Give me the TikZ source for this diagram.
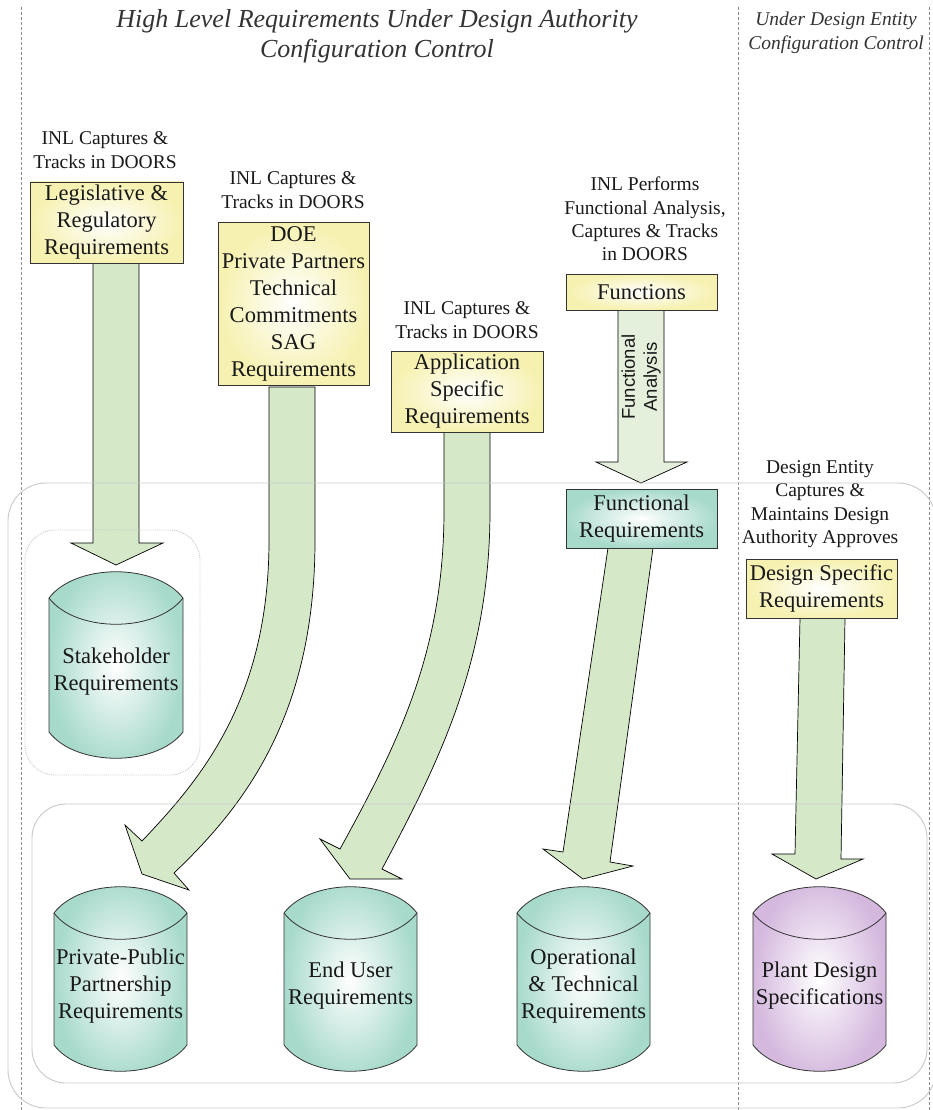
\documentclass[tikz,border=0pt]{standalone}
\usepackage{fontspec}
\setmainfont{Liberation Serif}
\setsansfont{Liberation Sans}
\definecolor{yel}{RGB}{246,241,176}
\definecolor{tealc}{RGB}{168,218,204}
\definecolor{purp}{RGB}{212,184,222}
\definecolor{arr}{RGB}{213,232,200}
\definecolor{arrlight}{RGB}{228,240,220}
\definecolor{framec}{RGB}{200,200,200}
\definecolor{txt}{RGB}{25,25,25}
\newcommand\cylinderfig[7]{%
  \pgfmathsetmacro\cylw{#2-#1}
  \path[draw=black!80, line width=0.8, inner color=white, outer color=#5]
    (#1,#3) .. controls ({#1+0.2*\cylw},{#3-35}) and ({#2-0.2*\cylw},{#3-35}) .. (#2,#3)
    -- (#2,#4) .. controls ({#2-0.2*\cylw},{#4+35}) and ({#1+0.2*\cylw},{#4+35}) .. (#1,#4) -- cycle;
  \draw[black!80, line width=0.8] (#1,#3) .. controls ({#1+0.2*\cylw},{#3+35}) and ({#2-0.2*\cylw},{#3+35}) .. (#2,#3);
  \node[cyltext] (#6) at ({(#1+#2)/2},{(#3+#4)/2+7}) {#7};
}
\begin{document}
\begin{tikzpicture}[x=1pt,y=-1pt,
  ybox/.style={draw=black!80, line width=0.8, inner color=white, outer color=yel,
    font=\fontsize{22.5}{27}\selectfont, align=center, inner sep=0, text=txt},
  tbox/.style={draw=black!80, line width=0.8, inner color=white, outer color=tealc,
    font=\fontsize{22.5}{27}\selectfont, align=center, inner sep=0, text=txt},
  cyltext/.style={font=\fontsize{22.5}{27}\selectfont, align=center, inner sep=0, text=txt},
  lbl/.style={font=\fontsize{19.5}{23.3}\selectfont, align=center, inner sep=0, text=txt},
  blockarrow/.style={fill=arr, draw=black, line width=0.7, line join=miter},
  divider/.style={draw=black!45, densely dashed, line width=0.6},
  region/.style={draw=framec, line width=0.9, rounded corners=38}
]
\useasboundingbox (0,0) rectangle (933,1110);

% dashed dividers
\draw[divider] (21,7) -- (21,1110);
\draw[divider] (738,7) -- (738,1110);
\draw[divider] (929,7) -- (929,1110);

% titles
\node[font=\itshape\fontsize{26}{30}\selectfont, align=center, inner sep=0, text=black!80] (title) at (377,36)
  {High Level Requirements Under Design Authority\\Configuration Control};
\node[font=\itshape\fontsize{19.5}{24}\selectfont, align=center, inner sep=0, text=black!80] (title2) at (836,33)
  {Under Design Entity\\Configuration Control};

% labels
\node[lbl] (l1) at (105,150) {INL Captures \&\\Tracks in DOORS};
\node[lbl] (l2) at (293,190) {INL Captures \&\\Tracks in DOORS};
\node[lbl] (l3) at (467,320) {INL Captures \&\\Tracks in DOORS};
\node[lbl] (l4) at (645,219) {INL Performs\\Functional Analysis,\\Captures \& Tracks\\in DOORS};
\node[lbl] (l5) at (820,504) {Design Entity\\Captures \&\\Maintains Design\\Authority Approves};

% block arrows
\path[blockarrow] (93,263) -- (93,543) -- (71,543) -- (116,565) -- (163,543) -- (139,543) -- (139,263) -- cycle;
\path[blockarrow] (269,387) -- (269,540) .. controls (269,700) and (200,780) .. (142,841)
  -- (125,825) -- (142,874) -- (189,890) -- (174,873)
  .. controls (240,810) and (315,720) .. (315,540) -- (315,387) -- cycle;
\path[blockarrow] (444,432) -- (444,510) .. controls (444,650) and (400,740) .. (340,849)
  -- (320,839) -- (350,879) -- (402,879) -- (382,869)
  .. controls (440,760) and (490,660) .. (490,510) -- (490,432) -- cycle;
\path[blockarrow, fill=arrlight] (618,310) -- (618,462) -- (596,462) -- (641,483) -- (687,462) -- (664,462) -- (664,310) -- cycle;
\path[blockarrow] (608,548) -- (563,852) -- (543,849) -- (583,879) -- (633,866) -- (610,862) -- (653,548) -- cycle;
\path[blockarrow] (800,618) -- (795,854) -- (772,854) -- (816,879) -- (863,859) -- (841,859) -- (845,618) -- cycle;
\node[rotate=90, font=\sffamily\fontsize{18.5}{22}\selectfont, align=center, inner sep=0, text=txt] (fa) at (641,377) {Functional\\Analysis};

% regions
\draw[region] (8,483) rectangle (936,1108);
\draw[region, rounded corners=34] (32,804) rectangle (927,1083);
\draw[draw=framec, line width=0.9, densely dotted, rounded corners=30] (25,530) rectangle (200,775);

% boxes
\node[ybox, minimum width=153, minimum height=81] (leg) at (106.5,222.5) {Legislative \&\\Regulatory\\Requirements};
\node[ybox, minimum width=151, minimum height=163] (doe) at (293.5,303.5) {DOE\\Private Partners\\Technical\\Commitments\\SAG\\Requirements};
\node[ybox, minimum width=152, minimum height=81] (app) at (467,391.5) {Application\\Specific\\Requirements};
\node[ybox, minimum width=151, minimum height=36] (fun) at (641.5,292) {Functions};
\node[ybox, minimum width=151, minimum height=59] (dsr) at (821.5,588.5) {Design Specific\\Requirements};
\node[tbox, minimum width=151, minimum height=59] (fr) at (641.5,518.5) {Functional\\Requirements};

% cylinders
\cylinderfig{49}{183}{598}{732}{tealc}{stake}{Stakeholder\\Requirements}
\cylinderfig{54}{187}{913}{1045}{tealc}{ppp}{Private-Public\\Partnership\\Requirements}
\cylinderfig{284}{417}{913}{1045}{tealc}{eu}{End User\\Requirements}
\cylinderfig{517}{650}{913}{1045}{tealc}{ops}{Operational\\\& Technical\\Requirements}
\cylinderfig{753}{886}{913}{1045}{purp}{pds}{Plant Design\\Specifications}
\end{tikzpicture}
\end{document}
